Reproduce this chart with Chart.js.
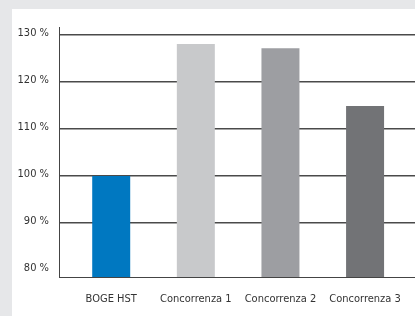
<!DOCTYPE html>
<html>
<head>
<meta charset="utf-8">
<script src="https://cdn.jsdelivr.net/npm/chart.js@4"></script>
<style>
  html, body { margin: 0; padding: 0; background: #e6e7e9; }
  #wrap { position: absolute; left: 12px; top: 9px; width: 403px; height: 307px; background: #fff; }
</style>
</head>
<body>
<div id="wrap"><canvas id="myChart" width="403" height="307"></canvas></div>
<script>
const ctx = document.getElementById('myChart');

const categories = ['BOGE HST', 'Concorrenza 1', 'Concorrenza 2', 'Concorrenza 3']
const values = [100, 128.1, 127.2, 114.9]
const barColors = ['#0078c1', '#c8c9cb', '#9d9ea2', '#727376']
const yTicks = [80, 90, 100, 110, 120, 130]

const font = { family: "'DejaVu Sans Condensed', 'Liberation Sans Narrow', 'Liberation Sans', sans-serif", size: 11 }

const points = values.map((v, i) => ({ x: i, y: v }))

const mychart = new Chart(ctx, {
  type: 'bar',
  data: {
    datasets: [{
      data: points,
      backgroundColor: barColors,
      borderWidth: 0,
      barPercentage: 0.449,
      categoryPercentage: 1
    }]
  },
  options: {
    responsive: false,
    animation: false,
    layout: { padding: { top: 18, right: 0, left: 0, bottom: 0 } },
    plugins: { legend: { display: false }, tooltip: { enabled: false } },
    scales: {
      x: {
        type: 'linear',
        offset: false,
        min: -0.617,
        max: 3.59,
        afterBuildTicks: (scale) => { scale.ticks = categories.map((c, i) => ({ value: i })) },
        afterFit: (scale) => { scale.height = 39 },
        grid: { display: false },
        border: { display: true, color: '#444', width: 1 },
        ticks: {
          color: '#333',
          font: font,
          padding: 8,
          maxRotation: 0,
          autoSkip: false,
          callback: (v) => categories[v]
        }
      },
      y: {
        min: 78.5,
        max: 131.7,
        afterBuildTicks: (scale) => { scale.ticks = yTicks.map(v => ({ value: v })) },
        afterFit: (scale) => { scale.width = 47 },
        grid: {
          color: (c) => c.tick && c.tick.value === 80 ? 'rgba(0,0,0,0)' : '#4a4a4a',
          lineWidth: 1.5,
          drawTicks: false
        },
        border: { display: true, color: '#444', width: 1 },
        ticks: {
          color: '#333',
          font: font,
          padding: 10,
          labelOffset: -2,
          callback: (v) => v + ' %'
        }
      }
    }
  }
});
</script>
</body>
</html>
